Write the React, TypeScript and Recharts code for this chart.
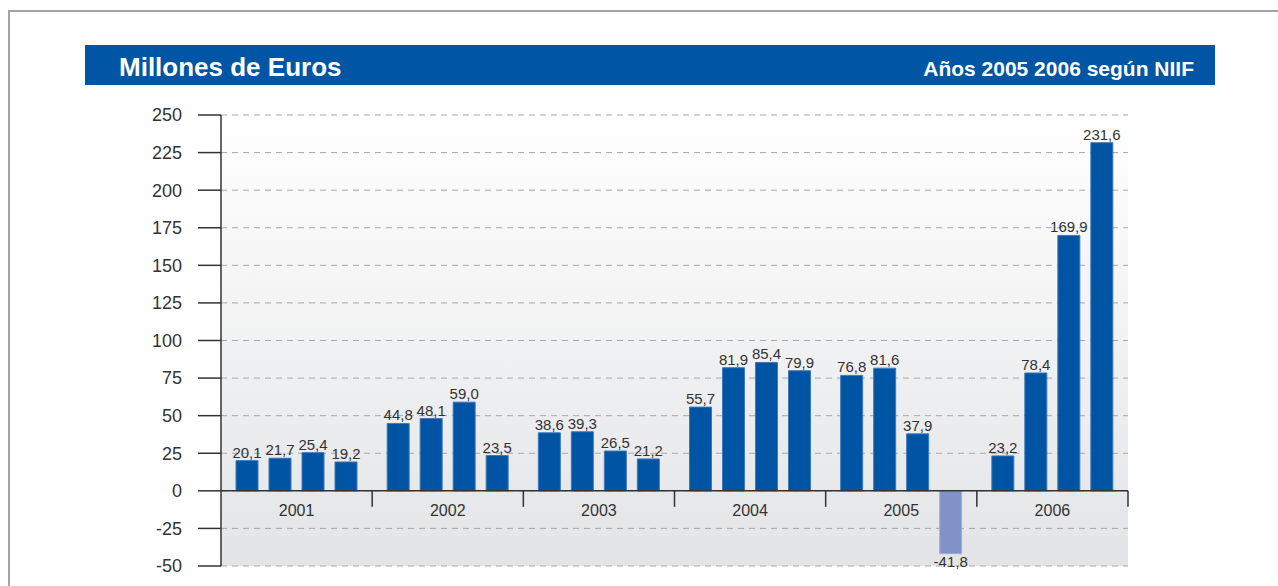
import { BarChart, Bar, XAxis, YAxis, CartesianGrid, ReferenceLine, LabelList, Cell } from 'recharts';

const years = ['2001', '2002', '2003', '2004', '2005', '2006'];
const q1 = [20.1, 44.8, 38.6, 55.7, 76.8, 23.2];
const q2 = [21.7, 48.1, 39.3, 81.9, 81.6, 78.4];
const q3 = [25.4, 59.0, 26.5, 85.4, 37.9, 169.9];
const q4 = [19.2, 23.5, 21.2, 79.9, -41.8, 231.6];
const yTicks = [-50, -25, 0, 25, 50, 75, 100, 125, 150, 175, 200, 225, 250];

const data = years.map((year, i) => ({ year, q1: q1[i], q2: q2[i], q3: q3[i], q4: q4[i] }));

const W = 1020;
const H = 486;
const MARGIN = { top: 15, right: 12, left: 0, bottom: 0 };
const XAXIS_H = 20;
const YAXIS_W = 101;
const PLOT_W = W - MARGIN.left - MARGIN.right - YAXIS_W;
const PLOT_H = H - MARGIN.top - MARGIN.bottom - XAXIS_H;
const Y_MIN = -50;
const Y_MAX = 250;
// distance from the bottom of the plot up to the zero line
const ZERO_UP = (PLOT_H * (0 - Y_MIN)) / (Y_MAX - Y_MIN);
const BAND = PLOT_W / years.length;

const BLUE = '#0054a4';
const NEG = '#8192c9';
const INK = '#333333';
const FONT = '"Liberation Sans", Arial, sans-serif';

const fmt = (v: number) => v.toFixed(1).replace('.', ',');

function YearTick(props: any) {
  const { x, y, payload } = props;
  const zeroY = y - ZERO_UP;
  return (
    <g>
      <text x={x} y={zeroY + 25} textAnchor="middle" fontSize={16} fill={INK} fontFamily={FONT}>
        {payload.value}
      </text>
      <line x1={x + BAND / 2} x2={x + BAND / 2} y1={zeroY} y2={zeroY + 16} stroke={INK} strokeWidth={1.5} />
    </g>
  );
}

function ValueLabel(props: any) {
  const { x, y, width, height, value } = props;
  const top = Math.min(y, y + height);
  const bottom = Math.max(y, y + height);
  const neg = value < 0;
  return (
    <text
      x={x + width / 2}
      y={neg ? bottom + 13 : top - 3}
      textAnchor="middle"
      fontSize={15}
      fill={INK}
      fontFamily={FONT}
    >
      {fmt(value)}
    </text>
  );
}

export default function App() {
  const series = ['q1', 'q2', 'q3', 'q4'];
  return (
    <div style={{ position: 'absolute', left: 0, top: 0, width: 1278, height: 586, overflow: 'hidden', background: '#fff', fontFamily: FONT }}>
      <div
        style={{
          position: 'absolute',
          left: 8,
          top: 10,
          width: 1290,
          height: 600,
          borderTop: '2px solid #a3a3a3',
          borderLeft: '2px solid #a3a3a3',
        }}
      />
      <div
        style={{
          position: 'absolute',
          left: 85,
          top: 45,
          width: 1130,
          height: 40,
          background: '#0055a5',
          color: '#fff',
          fontWeight: 700,
        }}
      >
        <span style={{ position: 'absolute', left: 34, top: 7, fontSize: 26, lineHeight: '30px' }}>Millones de Euros</span>
        <span style={{ position: 'absolute', right: 21, top: 11, fontSize: 21, lineHeight: '26px' }}>
          Años 2005 2006 según NIIF
        </span>
      </div>
      <div style={{ position: 'absolute', left: 120, top: 100 }}>
        <BarChart
          width={W}
          height={H}
          data={data}
          margin={MARGIN}
          barSize={22}
          barGap={11}
        >
          <defs>
            <linearGradient id="plotBg" x1="0" y1="0" x2="0" y2="1">
              <stop offset="0%" stopColor="#ffffff" />
              <stop offset="100%" stopColor="#e3e4e6" />
            </linearGradient>
          </defs>
          <CartesianGrid
            vertical={false}
            stroke="#a8a8a8"
            strokeDasharray="6 5"
            fill="url(#plotBg)"
            fillOpacity={1}
          />
          <XAxis
            dataKey="year"
            height={XAXIS_H}
            axisLine={false}
            tickLine={false}
            tickSize={0}
            tickMargin={0}
            interval={0}
            tick={<YearTick />}
          />
          <YAxis
            width={YAXIS_W}
            domain={[Y_MIN, Y_MAX]}
            ticks={yTicks}
            interval={0}
            tickSize={23}
            tickMargin={16}
            axisLine={{ stroke: INK, strokeWidth: 1.5 }}
            tickLine={{ stroke: INK, strokeWidth: 1.5 }}
            tick={{ fontSize: 18, fill: INK, fontFamily: FONT }}
          />
          <ReferenceLine y={0} stroke={INK} strokeWidth={1.5} />
          {series.map((key) => (
            <Bar
              key={key}
              dataKey={key}
              fill={BLUE}
              stroke="#3f78bd"
              strokeWidth={1}
              isAnimationActive={false}
            >
              {data.map((d: any, i) => (
                <Cell key={i} fill={d[key] < 0 ? NEG : BLUE} stroke={d[key] < 0 ? '#a3b0da' : '#3f78bd'} />
              ))}
              <LabelList dataKey={key} content={<ValueLabel />} />
            </Bar>
          ))}
        </BarChart>
      </div>
    </div>
  );
}
